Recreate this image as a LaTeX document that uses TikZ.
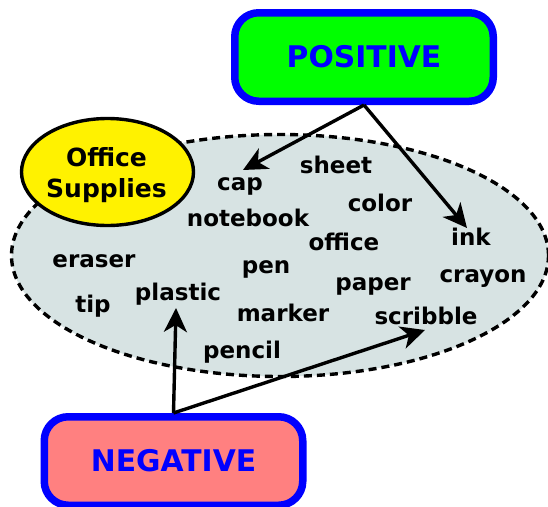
\documentclass[tikz,border=0pt]{standalone}
\usepackage{fontspec}
\setmainfont{DejaVu Sans}
\usetikzlibrary{shapes.geometric,arrows.meta}
\definecolor{cloudfill}{RGB}{215,227,227}
\definecolor{posfill}{RGB}{0,255,0}
\definecolor{negfill}{RGB}{255,128,128}
\definecolor{boxblue}{RGB}{0,0,255}
\tikzset{
  word/.style={anchor=base,inner sep=0pt,font=\fontsize{23}{27}\selectfont\bfseries},
  polebox/.style={rectangle,rounded corners=24pt,draw=boxblue,line width=7.5pt,
    minimum width=258.5pt,minimum height=88.5pt,text=boxblue,
    font=\fontsize{29.8}{34}\selectfont\bfseries},
  link/.style={line width=3.4pt,-{Stealth[length=24pt,width=23pt,inset=7pt]}},
}
\begin{document}
\begin{tikzpicture}[x=1pt,y=-1pt]
\useasboundingbox (0,0) rectangle (548,506);
% cloud of words
\node[ellipse,draw=black,fill=cloudfill,line width=3.4pt,dash pattern=on 8pt off 5pt,
  minimum width=537pt,minimum height=242pt,inner sep=0pt] (cloud) at (280,255.5) {};
% title ellipse
\node[ellipse,draw=black,fill=yellow,line width=3.4pt,minimum width=172pt,minimum height=107pt,
  inner sep=0pt] (title) at (107.5,172) {};
\node[inner sep=0pt,align=center,font=\fontsize{25}{31}\selectfont\bfseries] (titletext) at (106.5,175) {Office\\Supplies};
% pole boxes
\node[polebox,fill=posfill] (pos) at (364,57) {POSITIVE};
\node[polebox,fill=negfill] (neg) at (173.5,461) {NEGATIVE};
% words
\node[word] (cap) at (240,190) {cap};
\node[word] (sheet) at (336,173) {sheet};
\node[word] (notebook) at (248,226) {notebook};
\node[word] (color) at (380,211) {color};
\node[word] (office) at (344,250) {office};
\node[word] (ink) at (471,245) {ink};
\node[word] (eraser) at (94,267) {eraser};
\node[word] (pen) at (266,273) {pen};
\node[word] (crayon) at (483,282) {crayon};
\node[word] (paper) at (373,290) {paper};
\node[word] (tip) at (93,312) {tip};
\node[word] (plastic) at (178,300.5) {plastic};
\node[word] (marker) at (283,321) {marker};
\node[word] (scribble) at (426,324) {scribble};
\node[word] (pencil) at (242,358) {pencil};
% arrow tips
\coordinate (capTip) at (243,170);
\coordinate (inkTip) at (467,228);
\coordinate (plasticTip) at (176,308);
\coordinate (scribbleTip) at (425,330);
% connectors
\draw[link] (pos.south) -- (capTip);
\draw[link] (pos.south) -- (inkTip);
\draw[link] (neg.north) -- (plasticTip);
\draw[link] (neg.north) -- (scribbleTip);
\end{tikzpicture}
\end{document}
